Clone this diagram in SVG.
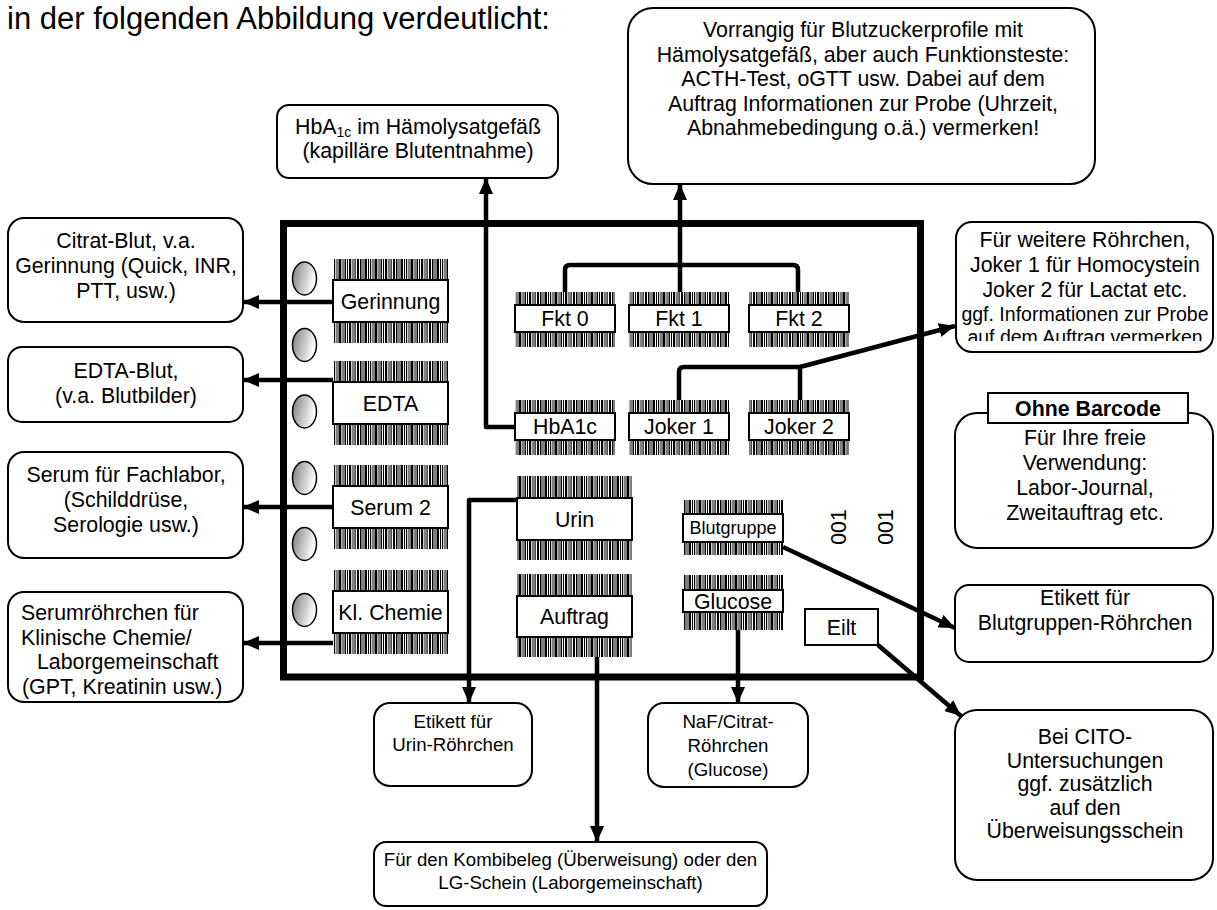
<svg xmlns="http://www.w3.org/2000/svg" width="1217" height="910" viewBox="0 0 1217 910">
<style>
text{font-family:"Liberation Sans",Arial,sans-serif;font-size:21.33px;fill:#000}
.c{text-anchor:middle}
.s{font-size:18.67px}
.box{fill:#fff;stroke:#000;stroke-width:2}
.lb{fill:#fff;stroke:#000;stroke-width:2}
.bc{fill:url(#bars)}
.ov{fill:url(#og);stroke:#000;stroke-width:1.5}
.cn{fill:none;stroke:#000;stroke-width:4.5;stroke-linejoin:round}
.ar{marker-end:url(#ah)}
</style>
<defs>
<pattern id="bars" width="36" height="10" patternUnits="userSpaceOnUse">
<rect x="0" width="1.5" height="10"/><rect x="2.5" width="1" height="10"/><rect x="4.5" width="2.5" height="10"/><rect x="8" width="1" height="10"/><rect x="10" width="1.2" height="10"/><rect x="12.5" width="1" height="10"/><rect x="14.5" width="2.8" height="10"/><rect x="18.5" width="1" height="10"/><rect x="20.5" width="1.5" height="10"/><rect x="23" width="1" height="10"/><rect x="25" width="2.2" height="10"/><rect x="28.5" width="1" height="10"/><rect x="30.5" width="1.2" height="10"/><rect x="33" width="2" height="10"/>
</pattern>
<linearGradient id="og" x1="0" y1="0" x2="1" y2="0.3">
<stop offset="0" stop-color="#7a7a7a"/><stop offset="1" stop-color="#ffffff"/>
</linearGradient>
<marker id="ah" markerUnits="userSpaceOnUse" markerWidth="16" markerHeight="14" refX="16" refY="7" orient="auto">
<path d="M0,0 L16,7 L0,14 z" fill="#000"/>
</marker>
<clipPath id="clipW"><rect x="956" y="222" width="257" height="119"/></clipPath>
</defs>

<text x="7" y="28.5" style="font-size:31px">in der folgenden Abbildung verdeutlicht:</text>

<g id="frame">
<rect x="283.5" y="223.5" width="637" height="453.5" fill="none" stroke="#000" stroke-width="7"/>
<ellipse class="ov" cx="304.5" cy="278.5" rx="12" ry="16.5"/>
<ellipse class="ov" cx="304.5" cy="345" rx="12" ry="16.5"/>
<ellipse class="ov" cx="304.5" cy="411.5" rx="12" ry="16.5"/>
<ellipse class="ov" cx="304.5" cy="478" rx="12" ry="16.5"/>
<ellipse class="ov" cx="304.5" cy="544" rx="12" ry="16.5"/>
<ellipse class="ov" cx="304.5" cy="610" rx="12" ry="16.5"/>
<text class="c" transform="translate(845.5,527) rotate(-90)">001</text>
<text class="c" transform="translate(892.5,527) rotate(-90)">001</text>
</g>

<g id="connectors">
<path class="cn ar" d="M333,302 H243"/>
<path class="cn ar" d="M333,380 H243"/>
<path class="cn ar" d="M333,507 H243"/>
<path class="cn ar" d="M333,643 H243"/>
<path class="cn ar" d="M515,427 H486 V178"/>
<path class="cn" d="M565,292 V270 Q565,265 570,265 H793 Q798,265 798,270 V292"/>
<path class="cn ar" d="M680,292 V184"/>
<path class="cn" d="M679,400 V372 Q679,367 684,367 H800 V400"/>
<path class="cn ar" d="M800,367 L955,326"/>
<path class="cn ar" d="M517,500 H469 V703"/>
<path class="cn ar" d="M597,657 V842"/>
<path class="cn ar" d="M738,630 V703"/>
<path class="cn ar" d="M783,547 L955,628"/>
<path class="cn ar" d="M878,645 L961,716"/>
</g>

<g id="lbl-gerinnung"><rect class="bc" x="333" y="259" width="115" height="84"/><rect class="lb" x="333" y="280" width="115" height="42"/><text class="c" x="390.5" y="309">Gerinnung</text></g>
<g id="lbl-edta"><rect class="bc" x="333" y="361" width="115" height="84"/><rect class="lb" x="333" y="382" width="115" height="42"/><text class="c" x="390.5" y="411">EDTA</text></g>
<g id="lbl-serum2"><rect class="bc" x="333" y="465" width="115" height="84"/><rect class="lb" x="333" y="486" width="115" height="42"/><text class="c" x="390.5" y="515">Serum 2</text></g>
<g id="lbl-klchemie"><rect class="bc" x="333" y="570" width="115" height="84"/><rect class="lb" x="333" y="591" width="115" height="42"/><text class="c" x="390.5" y="620">Kl. Chemie</text></g>

<g id="lbl-fkt0"><rect class="bc" x="515" y="292" width="100" height="55"/><rect class="lb" x="515" y="305" width="100" height="27"/><text class="c" x="565" y="326">Fkt 0</text></g>
<g id="lbl-fkt1"><rect class="bc" x="629" y="292" width="100" height="55"/><rect class="lb" x="629" y="305" width="100" height="27"/><text class="c" x="679" y="326">Fkt 1</text></g>
<g id="lbl-fkt2"><rect class="bc" x="749" y="292" width="100" height="55"/><rect class="lb" x="749" y="305" width="100" height="27"/><text class="c" x="799" y="326">Fkt 2</text></g>

<g id="lbl-hba1c"><rect class="bc" x="515" y="400" width="100" height="55"/><rect class="lb" x="515" y="413" width="100" height="27"/><text class="c" x="565" y="434">HbA1c</text></g>
<g id="lbl-joker1"><rect class="bc" x="629" y="400" width="100" height="55"/><rect class="lb" x="629" y="413" width="100" height="27"/><text class="c" x="679" y="434">Joker 1</text></g>
<g id="lbl-joker2"><rect class="bc" x="749" y="400" width="100" height="55"/><rect class="lb" x="749" y="413" width="100" height="27"/><text class="c" x="799" y="434">Joker 2</text></g>

<g id="lbl-urin"><rect class="bc" x="517" y="476" width="115" height="84"/><rect class="lb" x="517" y="498" width="115" height="42"/><text class="c" x="574.5" y="527">Urin</text></g>
<g id="lbl-auftrag"><rect class="bc" x="517" y="574" width="115" height="83"/><rect class="lb" x="517" y="596" width="115" height="41"/><text class="c" x="574.5" y="624">Auftrag</text></g>

<g id="lbl-blutgruppe"><rect class="bc" x="683" y="500" width="100" height="55"/><rect class="lb" x="683" y="514" width="100" height="28"/><text class="c" x="733" y="534" style="font-size:18px">Blutgruppe</text></g>
<g id="lbl-glucose"><rect class="bc" x="683" y="575" width="100" height="55"/><rect class="lb" x="683" y="590" width="100" height="22"/><text class="c" x="733" y="609">Glucose</text></g>
<g id="lbl-eilt"><rect class="lb" x="805" y="609" width="73" height="36"/><text class="c" x="841.5" y="635">Eilt</text></g>

<g id="box-citrat"><rect class="box" x="8" y="218" width="235" height="104" rx="16"/>
<text class="c" x="126" y="248">Citrat-Blut, v.a.</text><text class="c" x="126" y="273">Gerinnung (Quick, INR,</text><text class="c" x="126" y="298">PTT, usw.)</text></g>
<g id="box-edtablut"><rect class="box" x="8" y="347" width="235" height="75" rx="14"/>
<text class="c" x="126" y="378">EDTA-Blut,</text><text class="c" x="126" y="403">(v.a. Blutbilder)</text></g>
<g id="box-serum"><rect class="box" x="8" y="452" width="235" height="106" rx="16"/>
<text class="c" x="126" y="482">Serum für Fachlabor,</text><text class="c" x="126" y="507">(Schilddrüse,</text><text class="c" x="126" y="532">Serologie usw.)</text></g>
<g id="box-serumroehrchen"><rect class="box" x="8" y="592" width="235" height="110" rx="16"/>
<text x="21" y="620">Serumröhrchen für</text><text x="21" y="644.5">Klinische Chemie/</text><text x="37" y="669">Laborgemeinschaft</text><text x="22" y="693.5">(GPT, Kreatinin usw.)</text></g>

<g id="box-hba1c"><rect class="box" x="277" y="105" width="281" height="73" rx="12"/>
<text class="c" x="418" y="134">HbA<tspan style="font-size:14px" dy="3">1c</tspan><tspan dy="-3"> im Hämolysatgefäß</tspan></text>
<text class="c" x="418" y="158">(kapilläre Blutentnahme)</text></g>

<g id="box-vorrangig"><rect class="box" x="628" y="8" width="467" height="176" rx="25"/>
<text class="c" x="863" y="37">Vorrangig für Blutzuckerprofile mit</text>
<text class="c" x="863" y="61.5">Hämolysatgefäß, aber auch Funktionsteste:</text>
<text class="c" x="863" y="86">ACTH-Test, oGTT usw. Dabei auf dem</text>
<text class="c" x="863" y="110.5">Auftrag Informationen zur Probe (Uhrzeit,</text>
<text class="c" x="863" y="135">Abnahmebedingung o.ä.) vermerken!</text></g>

<g id="box-weitere"><rect class="box" x="956" y="222" width="257" height="130" rx="16"/>
<g clip-path="url(#clipW)">
<text class="c" x="1085" y="247">Für weitere Röhrchen,</text>
<text class="c" x="1085" y="272">Joker 1 für Homocystein</text>
<text class="c" x="1085" y="297">Joker 2 für Lactat etc.</text>
<text class="c" x="1085" y="321" style="font-size:19.5px">ggf. Informationen zur Probe</text>
<text class="c" x="1085" y="344" style="font-size:19.5px">auf dem Auftrag vermerken</text>
</g></g>

<g id="box-ohne"><rect class="box" x="955" y="413" width="258" height="135" rx="22"/>
<rect class="lb" x="988" y="393" width="200" height="30"/>
<text class="c" x="1088" y="416" style="font-weight:bold">Ohne Barcode</text>
<text class="c" x="1085" y="445">Für Ihre freie</text>
<text class="c" x="1085" y="470">Verwendung:</text>
<text class="c" x="1085" y="495">Labor-Journal,</text>
<text class="c" x="1085" y="520">Zweitauftrag etc.</text></g>

<g id="box-blutgruppen"><rect class="box" x="955" y="585" width="258" height="77" rx="14"/>
<text class="c" x="1085" y="605">Etikett für</text><text class="c" x="1085" y="630">Blutgruppen-Röhrchen</text></g>

<g id="box-cito"><rect class="box" x="955" y="710" width="258" height="170" rx="22"/>
<text class="c" x="1085" y="744">Bei CITO-</text><text class="c" x="1085" y="768">Untersuchungen</text><text class="c" x="1085" y="791">ggf. zusätzlich</text><text class="c" x="1085" y="815">auf den</text><text class="c" x="1085" y="838">Überweisungsschein</text></g>

<g id="box-urin"><rect class="box" x="374" y="703" width="158" height="83" rx="16"/>
<text class="c s" x="453" y="728">Etikett für</text><text class="c s" x="453" y="751">Urin-Röhrchen</text></g>

<g id="box-naf"><rect class="box" x="648" y="703" width="160" height="84" rx="16"/>
<text class="c s" x="728" y="728">NaF/Citrat-</text><text class="c s" x="728" y="752">Röhrchen</text><text class="c s" x="728" y="776">(Glucose)</text></g>

<g id="box-kombi"><rect class="box" x="374" y="842" width="393" height="64" rx="12"/>
<text class="c s" x="570.5" y="866">Für den Kombibeleg (Überweisung) oder den</text>
<text class="c s" x="570.5" y="889">LG-Schein (Laborgemeinschaft)</text></g>
</svg>
